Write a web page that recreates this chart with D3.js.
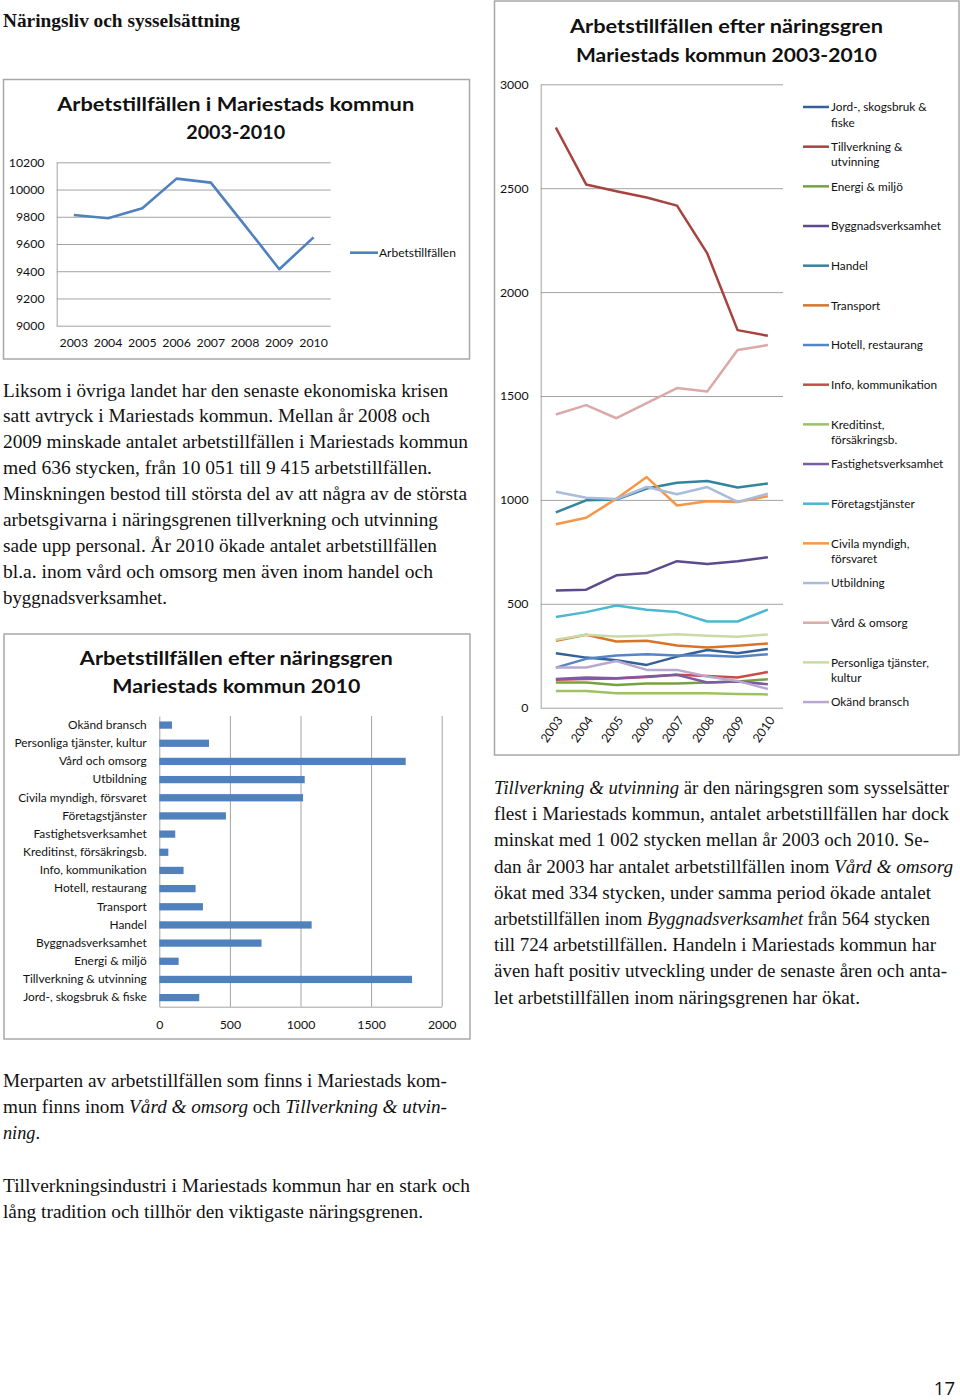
<!DOCTYPE html>
<html><head><meta charset="utf-8">
<script src="https://cdn.jsdelivr.net/npm/d3@7"></script>
<style>body{margin:0;background:#fff} svg{display:block}</style>
</head><body>
<svg id="page" width="960" height="1400"></svg>
<script>
// ---------------- DATA ----------------
const years = ["2003","2004","2005","2006","2007","2008","2009","2010"];
const totalJobs = [9813, 9789, 9862, 10080, 10051, 9735, 9415, 9649];
const totalTicks = [9000, 9200, 9400, 9600, 9800, 10000, 10200];

const legendNames = ["Jord-, skogsbruk &|fiske","Tillverkning &|utvinning","Energi & miljö","Byggnadsverksamhet","Handel","Transport","Hotell, restaurang","Info, kommunikation","Kreditinst,|försäkringsb.","Fastighetsverksamhet","Företagstjänster","Civila myndigh,|försvaret","Utbildning","Vård & omsorg","Personliga tjänster,|kultur","Okänd bransch"];
const barNames = ["Jord-, skogsbruk & fiske","Tillverkning & utvinning","Energi & miljö","Byggnadsverksamhet","Handel","Transport","Hotell, restaurang","Info, kommunikation","Kreditinst, försäkringsb.","Fastighetsverksamhet","Företagstjänster","Civila myndigh, försvaret","Utbildning","Vård och omsorg","Personliga tjänster, kultur","Okänd bransch"];

const jord        = [262, 241, 228, 206, 246, 278, 262, 283];
const tillverkning= [2792, 2518, 2485, 2455, 2416, 2186, 1817, 1790];
const energi      = [121, 121, 109, 117, 116, 121, 126, 137];
const bygg        = [564, 568, 637, 648, 705, 692, 705, 724];
const handel      = [940, 998, 1002, 1055, 1083, 1091, 1060, 1079];
const transport   = [322, 351, 319, 322, 299, 290, 298, 309];
const hotell      = [193, 235, 251, 257, 251, 251, 245, 257];
const info        = [134, 138, 140, 148, 158, 153, 145, 172];
const kredit      = [80, 80, 69, 69, 69, 69, 66, 64];
const fastighet   = [138, 145, 142, 150, 158, 121, 126, 113];
const foretag     = [436, 460, 492, 471, 460, 415, 415, 472];
const civila      = [883, 914, 1006, 1110, 973, 994, 990, 1018];
const utbildning  = [1039, 1010, 1004, 1062, 1027, 1062, 990, 1030];
const vard        = [1411, 1456, 1393, 1466, 1538, 1522, 1721, 1745];
const personliga  = [327, 351, 343, 346, 354, 346, 341, 352];
const okand       = [193, 193, 225, 182, 182, 150, 129, 90];
const sectorSeries = [jord, tillverkning, energi, bygg, handel, transport, hotell, info, kredit, fastighet, foretag, civila, utbildning, vard, personliga, okand];
const sectorTicks = [0, 500, 1000, 1500, 2000, 2500, 3000];
const barTicks = [0, 500, 1000, 1500, 2000];

const sectorColors = ["#34609A","#A8423F","#77A043","#5B4A8C","#31859C","#D8742A","#5585C5","#C84B48","#9BC361","#7B5AA6","#4BB8D0","#F79646","#A9BCDB","#DBA9A8","#C8DBA6","#B8A8D0"];

const chart1Title = ["Arbetstillfällen i Mariestads kommun", "2003-2010"];
const chart1Legend = "Arbetstillfällen";
const chart2Title = ["Arbetstillfällen efter näringsgren", "Mariestads kommun 2003-2010"];
const chart3Title = ["Arbetstillfällen efter näringsgren", "Mariestads kommun 2010"];

const heading = "Näringsliv och sysselsättning";
const paraLeft = [
 "Liksom i övriga landet har den senaste ekonomiska krisen",
 "satt avtryck i Mariestads kommun. Mellan år 2008 och",
 "2009 minskade antalet arbetstillfällen i Mariestads kommun",
 "med 636 stycken, från 10 051 till 9 415 arbetstillfällen.",
 "Minskningen bestod till största del av att några av de största",
 "arbetsgivarna i näringsgrenen tillverkning och utvinning",
 "sade upp personal. År 2010 ökade antalet arbetstillfällen",
 "bl.a. inom vård och omsorg men även inom handel och",
 "byggnadsverksamhet."];
const paraRight = [
 "*Tillverkning & utvinning* är den näringsgren som sysselsätter",
 "flest i Mariestads kommun, antalet arbetstillfällen har dock",
 "minskat med 1 002 stycken mellan år 2003 och 2010. Se-",
 "dan år 2003 har antalet arbetstillfällen inom *Vård & omsorg*",
 "ökat med 334 stycken, under samma period ökade antalet",
 "arbetstillfällen inom *Byggnadsverksamhet* från 564 stycken",
 "till 724 arbetstillfällen. Handeln i Mariestads kommun har",
 "även haft positiv utveckling under de senaste åren och anta-",
 "let arbetstillfällen inom näringsgrenen har ökat."];
const paraBottom1 = [
 "Merparten av arbetstillfällen som finns i Mariestads kom-",
 "mun finns inom *Vård & omsorg* och *Tillverkning & utvin-*",
 "*ning*."];
const paraBottom2 = [
 "Tillverkningsindustri i Mariestads kommun har en stark och",
 "lång tradition och tillhör den viktigaste näringsgrenen."];
const pageNumber = "17";

// ---------------- DRAWING ----------------
const svg = d3.select("#page");
svg.append("rect").attr("width",960).attr("height",1400).attr("fill","#fff");
const SANS = "Lato, 'Open Sans', sans-serif";
const SERIF = "'Liberation Serif', 'DejaVu Serif', serif";
const GRID = "#A3A3A3";
const BORDER = "#A8A8A8";
const LABEL = "#111";
const fmt = d3.format("d");

function box(x,y,w,h){
  svg.append("rect").attr("x",x).attr("y",y).attr("width",w).attr("height",h)
    .attr("fill","none").attr("stroke",BORDER).attr("stroke-width",1.5);
}
function title(lines, cx, baselines, widths){
  lines.forEach((t,i)=>svg.append("text").attr("x",cx).attr("y",baselines[i])
    .attr("text-anchor","middle").attr("font-family",SANS).attr("font-weight","bold")
    .attr("font-size",19).attr("fill","#111").attr("textLength",widths[i])
    .attr("lengthAdjust","spacingAndGlyphs").text(t));
}
function styleAxis(g, fs){
  g.attr("font-family",SANS).attr("font-size",fs);
  g.selectAll("text").attr("fill",LABEL);
  g.selectAll(".tick line").attr("stroke",GRID);
  g.select(".domain").attr("stroke",GRID);
}

// ---- Chart 1 ----
box(3.5,79.5,466,279.5);
title(chart1Title, 235.7, [111,139], [357,99]);
const x1 = d3.scaleBand().domain(years).range([56.7,330.7]);
const y1 = d3.scaleLinear().domain([9000,10200]).range([325.7,162.3]);
const gy1 = svg.append("g").attr("transform","translate(56.7,0)")
  .call(d3.axisLeft(y1).tickValues(totalTicks).tickFormat(fmt).tickSize(-274).tickSizeOuter(0).tickPadding(12.2));
styleAxis(gy1, 12.3);
const gx1 = svg.append("g").attr("transform","translate(0,325.7)")
  .call(d3.axisBottom(x1).tickSize(0).tickPadding(12.2));
styleAxis(gx1, 12.3); gx1.select(".domain").remove();
svg.append("path").datum(totalJobs)
  .attr("d", d3.line().x((d,i)=>x1(years[i])+x1.bandwidth()/2).y(d=>y1(d)))
  .attr("fill","none").attr("stroke","#4F81BD").attr("stroke-width",2.6).attr("stroke-linejoin","round");
svg.append("line").attr("x1",350).attr("x2",378).attr("y1",252.7).attr("y2",252.7)
  .attr("stroke","#4F81BD").attr("stroke-width",2.6);
svg.append("text").attr("x",379).attr("y",256.8).attr("font-family",SANS).attr("font-size",12)
  .attr("fill",LABEL).text(chart1Legend);

// ---- Chart 2 ----
box(494.5,1,464.5,754);
title(chart2Title, 726.5, [32.5,61.5], [313,301]);
const x2 = d3.scaleBand().domain(years).range([540.7,783]);
const y2 = d3.scaleLinear().domain([0,3000]).range([707.7,84.3]);
const gy2 = svg.append("g").attr("transform","translate(540.7,0)")
  .call(d3.axisLeft(y2).tickValues(sectorTicks).tickFormat(fmt).tickSize(-242.3).tickSizeOuter(0).tickPadding(12.2));
styleAxis(gy2, 12.3);
const gx2 = svg.append("g").attr("transform","translate(0,707.7)")
  .call(d3.axisBottom(x2).tickSize(0));
styleAxis(gx2, 12.3); gx2.select(".domain").remove();
gx2.selectAll("text").attr("x",0).attr("y",0).attr("dy","0.35em")
  .attr("text-anchor","end").attr("transform","translate(4,10) rotate(-55)");
const line2 = d3.line().x((d,i)=>x2(years[i])+x2.bandwidth()/2).y(d=>y2(d));
svg.append("g").selectAll("path").data(sectorSeries).join("path")
  .attr("d", d=>line2(d)).attr("fill","none")
  .attr("stroke",(d,i)=>sectorColors[i]).attr("stroke-width",2.5).attr("stroke-linejoin","round");
const leg = svg.append("g").selectAll("g").data(legendNames).join("g")
  .attr("transform",(d,i)=>`translate(0,${107 + i*39.67})`);
leg.append("line").attr("x1",803).attr("x2",829).attr("y1",0).attr("y2",0)
  .attr("stroke",(d,i)=>sectorColors[i]).attr("stroke-width",2.5);
leg.each(function(d){
  const t = d3.select(this).append("text").attr("x",831).attr("y",4.2)
    .attr("font-family",SANS).attr("font-size",11.8).attr("fill",LABEL);
  d.split("|").forEach((s,j)=>t.append("tspan").attr("x",831).attr("dy", j?15.5:0).text(s));
});

// ---- Chart 3 ----
box(4,634,466,405);
title(chart3Title, 236.3, [665,693], [313,248]);
const barOrder = barNames.slice().reverse();
const x3 = d3.scaleLinear().domain([0,2000]).range([159.3,441.7]);
const y3 = d3.scaleBand().domain(barOrder).range([716,1006.7]).paddingInner(0.6).paddingOuter(0.3);
const gx3 = svg.append("g").attr("transform","translate(0,1006.7)")
  .call(d3.axisBottom(x3).tickValues(barTicks).tickFormat(fmt).tickSize(-290.7).tickSizeOuter(0).tickPadding(13.5));
styleAxis(gx3, 12.3);
gx3.selectAll(".tick").filter(d=>d===0).select("line").remove();
const gy3 = svg.append("g").attr("transform","translate(159.3,0)")
  .call(d3.axisLeft(y3).tickSize(0).tickPadding(12.6));
styleAxis(gy3, 11.9);
svg.append("g").selectAll("rect").data(barNames).join("rect")
  .attr("x",x3(0)).attr("y",(d)=>y3(d))
  .attr("width",(d,i)=>x3(sectorSeries[i][7])-x3(0)).attr("height",y3.bandwidth())
  .attr("fill","#4F81BD");

// ---------------- TEXT ----------------
svg.append("text").attr("x",3).attr("y",26.5).attr("font-family",SERIF).attr("font-weight","bold")
  .attr("font-size",18).attr("fill","#111").attr("textLength",237).attr("lengthAdjust","spacingAndGlyphs").text(heading);

function para(lines, x, y0, step, ends){
  lines.forEach((ln,i)=>{
    const t = svg.append("text").attr("x",x).attr("y",y0+i*step)
      .attr("font-family",SERIF).attr("font-size",18.5).attr("fill","#111")
      .attr("textLength",ends[i]-x).attr("lengthAdjust","spacingAndGlyphs");
    ln.split("*").forEach((s,j)=>{ if(s.length) t.append("tspan").attr("font-style", j%2 ? "italic":"normal").text(s); });
  });
}
para(paraLeft, 3, 396.5, 25.9, [448,430,468,432,467,438,437,433,167]);
para(paraRight, 494, 794, 26.2, [949,949,929,953,931,930,936,947,860]);
para(paraBottom1, 3, 1086.7, 26.3, [447,447,40]);
para(paraBottom2, 3, 1191.7, 26.3, [470,423]);

svg.append("text").attr("x",955).attr("y",1395).attr("text-anchor","end")
  .attr("font-family","'Open Sans', sans-serif").attr("font-size",18.5).attr("fill","#111").text(pageNumber);
</script>
</body></html>
